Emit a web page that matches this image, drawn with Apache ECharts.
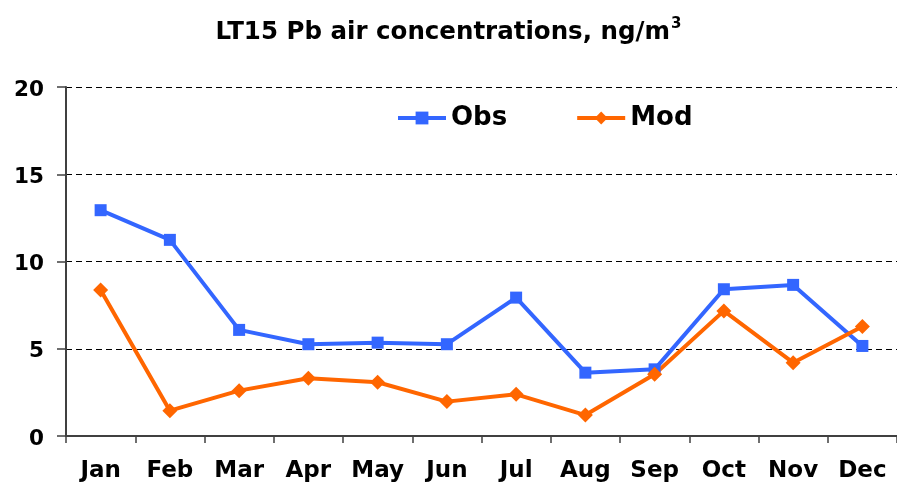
<!DOCTYPE html>
<html><head><meta charset="utf-8">
<script src="https://cdn.jsdelivr.net/npm/echarts@6/dist/echarts.min.js"></script>
<style>html,body{margin:0;padding:0;background:#fff}#c{width:897px;height:485px}</style>
</head><body><div id="c"></div>
<script>
var months = ['Jan','Feb','Mar','Apr','May','Jun','Jul','Aug','Sep','Oct','Nov','Dec'];
var obs = [12.94, 11.24, 6.08, 5.26, 5.35, 5.26, 7.93, 3.63, 3.82, 8.41, 8.66, 5.16];
var mod = [8.37, 1.45, 2.60, 3.31, 3.08, 1.97, 2.39, 1.20, 3.54, 7.17, 4.20, 6.27];
var yTicks = [0, 5, 10, 15, 20];

var font = '"DejaVu Sans", Arial, sans-serif';
var chart = echarts.init(document.getElementById('c'), null, {renderer: 'canvas'});
chart.setOption({
  animation: false,
  backgroundColor: '#ffffff',
  title: {
    text: '{a|LT15 Pb air concentrations, ng/m}{s|3}',
    left: 'center', top: 12,
    textStyle: {
      rich: {
        a: {fontFamily: font, fontSize: 24.5, fontWeight: 'bold', color: '#000', lineHeight: 32},
        s: {fontFamily: font, fontSize: 15, fontWeight: 'bold', color: '#000', verticalAlign: 'top', lineHeight: 32, padding: [0, 0, 0, 1]}
      }
    }
  },
  legend: {
    left: 391, top: 100,
    itemWidth: 48, itemHeight: 16, itemGap: 68,
    lineStyle: {width: 4},
    textStyle: {fontFamily: font, fontSize: 26, fontWeight: 'bold', color: '#000'},
    data: ['Obs', 'Mod']
  },
  grid: {left: 66, right: -3, top: 87, bottom: 49, containLabel: false},
  xAxis: {
    type: 'category', data: months, boundaryGap: true,
    axisLine: {lineStyle: {color: '#404040', width: 2}},
    axisTick: {show: true, length: 7, inside: false, alignWithLabel: false, lineStyle: {color: '#404040', width: 1.5}},
    axisLabel: {fontFamily: font, fontSize: 23, fontWeight: 'bold', color: '#000', margin: 24, interval: 0}
  },
  yAxis: {
    type: 'value', min: yTicks[0], max: yTicks[yTicks.length - 1], interval: 5,
    axisLine: {show: true, lineStyle: {color: '#404040', width: 2}},
    axisTick: {show: true, length: 9, lineStyle: {color: '#404040', width: 1.5}},
    axisLabel: {fontFamily: font, fontSize: 21.5, fontWeight: 'bold', color: '#000', margin: 22, verticalAlign: 'top', lineHeight: 22, padding: [-8, 0, 0, 0]},
    splitLine: {show: true, lineStyle: {color: '#000', width: 1, type: [6, 4]}}
  },
  series: [
    {name: 'Obs', type: 'line', data: obs, color: '#3366FF',
     symbol: 'rect', symbolSize: 12,
     lineStyle: {width: 4, color: '#3366FF'}, itemStyle: {color: '#3366FF'}},
    {name: 'Mod', type: 'line', data: mod, color: '#FF6600',
     symbol: 'diamond', symbolSize: 15,
     lineStyle: {width: 4, color: '#FF6600'}, itemStyle: {color: '#FF6600'}}
  ]
});
</script></body></html>
